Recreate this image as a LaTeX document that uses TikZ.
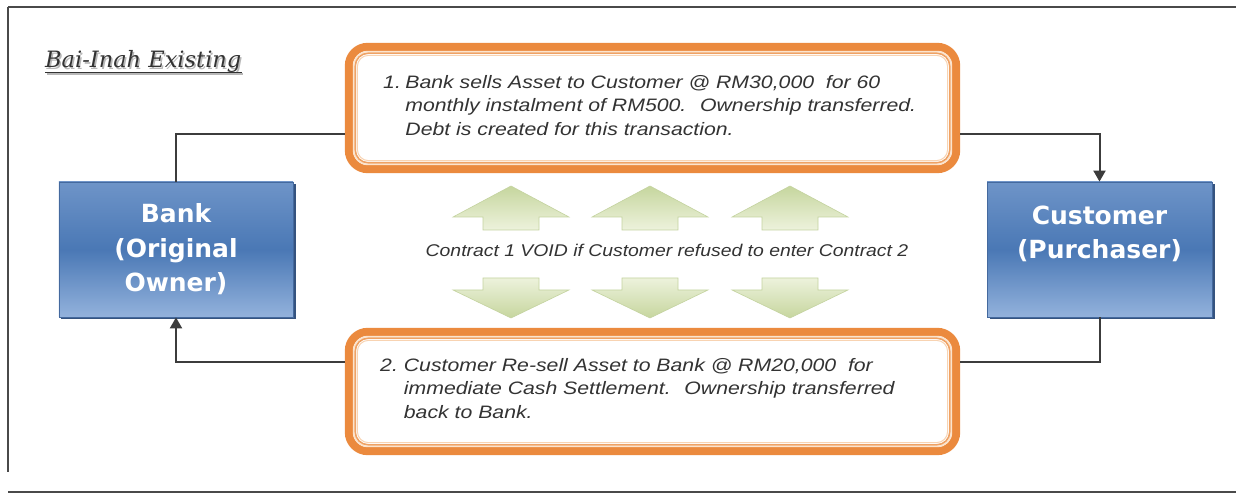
\documentclass[tikz,border=0pt]{standalone}
\usepackage{fontspec}
\setmainfont{Liberation Sans}
\newfontfamily\boxfont{Liberation Sans}[FakeStretch=1.18]
\newfontfamily\midfont{Liberation Sans}[FakeStretch=1.14]
\newfontfamily\partyfont{DejaVu Sans}
\newfontfamily\headfont{DejaVu Serif}
\usetikzlibrary{arrows.meta,calc,shadows}

\definecolor{framegray}{HTML}{4A4A4A}
\definecolor{linkgray}{HTML}{3C3C3C}
\definecolor{textgray}{HTML}{333333}
\definecolor{bandorange}{HTML}{EB8A3E}
\definecolor{palebeige}{HTML}{FBE4CE}
\definecolor{thinorange}{HTML}{EFA264}
\definecolor{innerpale}{HTML}{F8D3B2}
\definecolor{partytop}{HTML}{6E94C8}
\definecolor{partymid}{HTML}{4A78B5}
\definecolor{partybot}{HTML}{93B2DC}
\definecolor{partyedge}{HTML}{44699E}
\definecolor{partyshadow}{HTML}{35537F}
\definecolor{arrowdark}{HTML}{C6D69E}
\definecolor{arrowlight}{HTML}{EDF2DC}
\definecolor{arrowedge}{HTML}{C4D3A0}
\definecolor{titleshade}{HTML}{B8B8B8}

% layered orange frame around a transaction box
\newcommand\orangeframe[1]{%
  \draw[bandorange, line width=8bp, rounded corners=19bp]
    ($(#1.north west)+(4,4)$) rectangle ($(#1.south east)+(-4,-4)$);
  \draw[palebeige, line width=1.6bp, rounded corners=14bp]
    ($(#1.north west)+(8.8,8.8)$) rectangle ($(#1.south east)+(-8.8,-8.8)$);
  \draw[thinorange, line width=1.6bp, rounded corners=13bp]
    ($(#1.north west)+(10.4,10.4)$) rectangle ($(#1.south east)+(-10.4,-10.4)$);
  \draw[innerpale, line width=1bp, rounded corners=11bp]
    ($(#1.north west)+(12.6,12.6)$) rectangle ($(#1.south east)+(-12.6,-12.6)$);
}

\tikzset{
  deal/.style={rectangle, fill=white, inner sep=0pt},
  dealtext/.style={anchor=west, inner sep=0pt, text=textgray,
    font=\boxfont\itshape\fontsize{18bp}{23.5bp}\selectfont},
  party/.style={rectangle, draw=partyedge, line width=0.8bp,
    top color=partytop, bottom color=partybot, middle color=partymid,
    drop shadow={shadow xshift=2.5bp, shadow yshift=-2.5bp, fill=partyshadow, opacity=1},
    text=white, align=center, inner sep=0pt,
    font=\partyfont\bfseries\fontsize{25bp}{34.5bp}\selectfont},
  link/.style={draw=linkgray, line width=2bp},
  linkarrow/.style={link, -{Triangle[width=12bp,length=11bp]}},
  frameline/.style={draw=framegray, line width=2.4bp},
  greenarrow/.style={draw=arrowedge, line width=0.6bp},
  headtext/.style={anchor=base west, inner sep=0pt,
    font=\headfont\itshape\fontsize{22.5bp}{26bp}\selectfont},
}

\begin{document}
\begin{tikzpicture}[x=1bp, y=-1bp]
\useasboundingbox (0,0) rectangle (1236,494);

% outer frame
\draw[frameline] (8,7) -- (1236,7);
\draw[frameline] (8,7) -- (8,472);
\draw[frameline] (8,492) -- (1236,492);

% heading with its soft shadow and underline
\node[headtext, text=titleshade] (titleshadow) at (46.5,69.5) {Bai-Inah Existing};
\draw[titleshade, line width=1.2bp] ($(titleshadow.base west)+(0,4.5)$) -- ($(titleshadow.base east)+(0,4.5)$);
\node[headtext, text=textgray] (title) at (45,68) {Bai-Inah Existing};
\draw[textgray, line width=1.1bp] ($(title.base west)+(0,4.5)$) -- ($(title.base east)+(0,4.5)$);

% parties
\node[party, minimum width=234bp, minimum height=135bp] (bank) at (176,249.5)
  {Bank\\(Original\\Owner)};
\node[party, minimum width=225bp, minimum height=135bp] (cust) at (1099.5,249.5)
  {Customer\\(Purchaser)\\\mbox{}};

% transaction boxes
\node[deal, minimum width=615bp, minimum height=130bp] (sale) at (652.5,108) {};
\orangeframe{sale}
\node[dealtext] (saletext) at (383,107)
  {\begin{tabular}{@{}l@{\hspace{4.5bp}}l@{}}
   1. & Bank sells Asset to Customer @ RM30,000 \ for 60\\
      & monthly instalment of RM500. \ Ownership transferred.\\
      & Debt is created for this transaction.
   \end{tabular}};

\node[deal, minimum width=615bp, minimum height=127bp] (resale) at (652.5,391.5) {};
\orangeframe{resale}
\node[dealtext] (resaletext) at (380,390)
  {\begin{tabular}{@{}l@{\hspace{6bp}}l@{}}
   2. & Customer Re-sell Asset to Bank @ RM20,000 \ for\\
      & immediate Cash Settlement. \ Ownership transferred\\
      & back to Bank.
   \end{tabular}};

% connectors
\draw[link] (bank.north) |- ($(sale.west)+(0,26)$);
\draw[linkarrow] ($(sale.east)+(0,26)$) -| (cust.north);
\draw[link] (cust.south) |- ($(resale.east)+(0,-29.5)$);
\draw[linkarrow] ($(resale.west)+(0,-29.5)$) -| (bank.south);

% up and down block arrows
\foreach \cx in {511,650,790}{
  \shade[greenarrow, top color=arrowdark, bottom color=arrowlight]
    (\cx,186) -- (\cx+58,217) -- (\cx+28,217) -- (\cx+28,230)
    -- (\cx-28,230) -- (\cx-28,217) -- (\cx-58,217) -- cycle;
  \shade[greenarrow, top color=arrowlight, bottom color=arrowdark]
    (\cx-28,278) -- (\cx+28,278) -- (\cx+28,290) -- (\cx+58,290)
    -- (\cx,318) -- (\cx-58,290) -- (\cx-28,290) -- cycle;
}

\node[inner sep=0pt, text=textgray, font=\midfont\itshape\fontsize{17bp}{20bp}\selectfont]
  (voidnote) at (667,250) {Contract 1 VOID if Customer refused to enter Contract 2};
\end{tikzpicture}
\end{document}
